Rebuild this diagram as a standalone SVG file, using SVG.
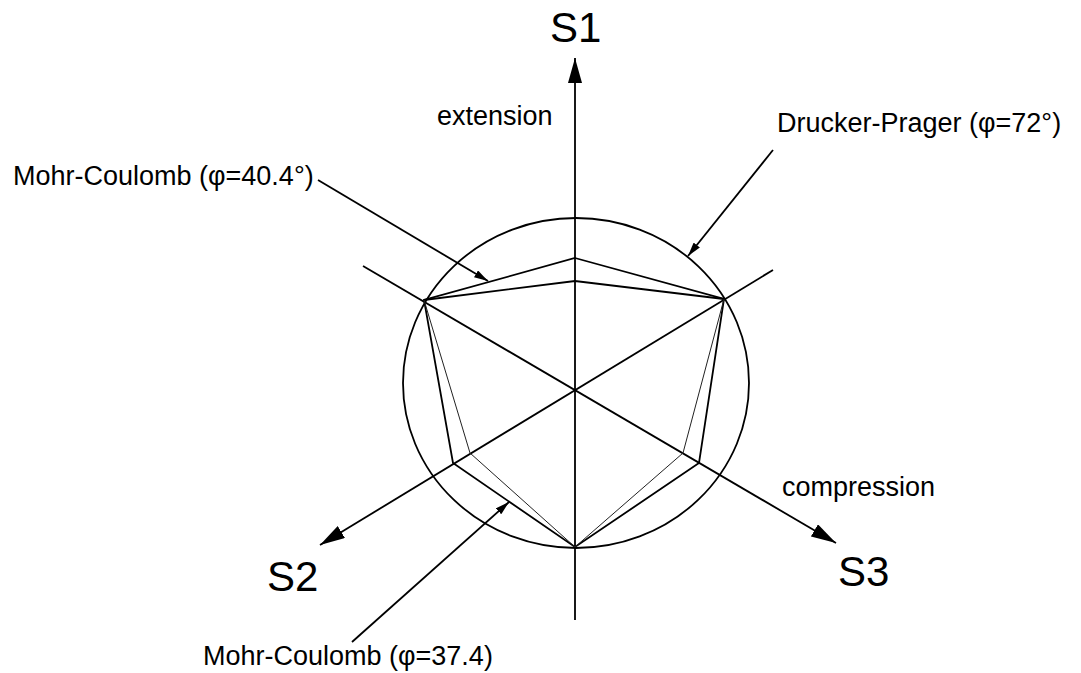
<svg xmlns="http://www.w3.org/2000/svg" width="1081" height="673" viewBox="0 0 1081 673">
<style>
.ln{fill:none;stroke:#000;stroke-width:1.8;stroke-linejoin:miter}
.thin{fill:none;stroke:#222;stroke-width:1}
.lbl{font-family:"Liberation Sans",Arial,sans-serif;font-size:27px;fill:#000}
.ax{font-family:"Liberation Sans",Arial,sans-serif;font-size:42px;fill:#000}
</style>
<defs>
<marker id="big" markerWidth="26" markerHeight="14" refX="25" refY="7" orient="auto" markerUnits="userSpaceOnUse"><path d="M0,0 L25,7 L0,14 z" fill="#000"/></marker>
<marker id="small" markerWidth="15" markerHeight="8" refX="14" refY="4" orient="auto" markerUnits="userSpaceOnUse"><path d="M0,0 L14,4 L0,8 z" fill="#000"/></marker>
</defs>
<rect width="1081" height="673" fill="#fff"/>
<g id="axes">
<line class="ln" x1="575" y1="620" x2="575" y2="58" marker-end="url(#big)"/>
<line class="ln" x1="363" y1="266" x2="836" y2="543" marker-end="url(#big)"/>
<line class="ln" x1="773" y1="270" x2="320" y2="545" marker-end="url(#big)"/>
</g>
<g id="drucker-prager-circle">
<ellipse class="ln" cx="576" cy="383" rx="173" ry="165"/>
</g>
<g id="mohr-coulomb-40">
<polygon class="ln" points="575,258 724,299 699,463 575,547 453,463 424,300"/>
</g>
<g id="mohr-coulomb-37">
<polyline class="ln" points="424,300 575,281 724,299"/>
<polyline class="thin" points="724,299 683,453 575,547 470,453 424,300"/>
</g>
<g id="connectors">
<line class="ln" stroke-width="1.5" x1="318" y1="180" x2="488" y2="281" marker-end="url(#small)"/>
<line class="ln" stroke-width="1.5" x1="773" y1="150" x2="688" y2="256" marker-end="url(#small)"/>
<line class="ln" stroke-width="1.5" x1="352" y1="642" x2="509" y2="502" marker-end="url(#small)"/>
</g>
<g id="labels">
<text class="ax" x="550" y="42">S1</text>
<text class="ax" x="267" y="591">S2</text>
<text class="ax" x="838" y="586">S3</text>
<text class="lbl" x="437" y="125">extension</text>
<text class="lbl" x="782" y="496" font-size="28">compression</text>
<text class="lbl" x="777" y="132">Drucker-Prager (φ=72°)</text>
<text class="lbl" x="13" y="185">Mohr-Coulomb (φ=40.4°)</text>
<text class="lbl" x="203" y="665">Mohr-Coulomb (φ=37.4)</text>
</g>
</svg>
